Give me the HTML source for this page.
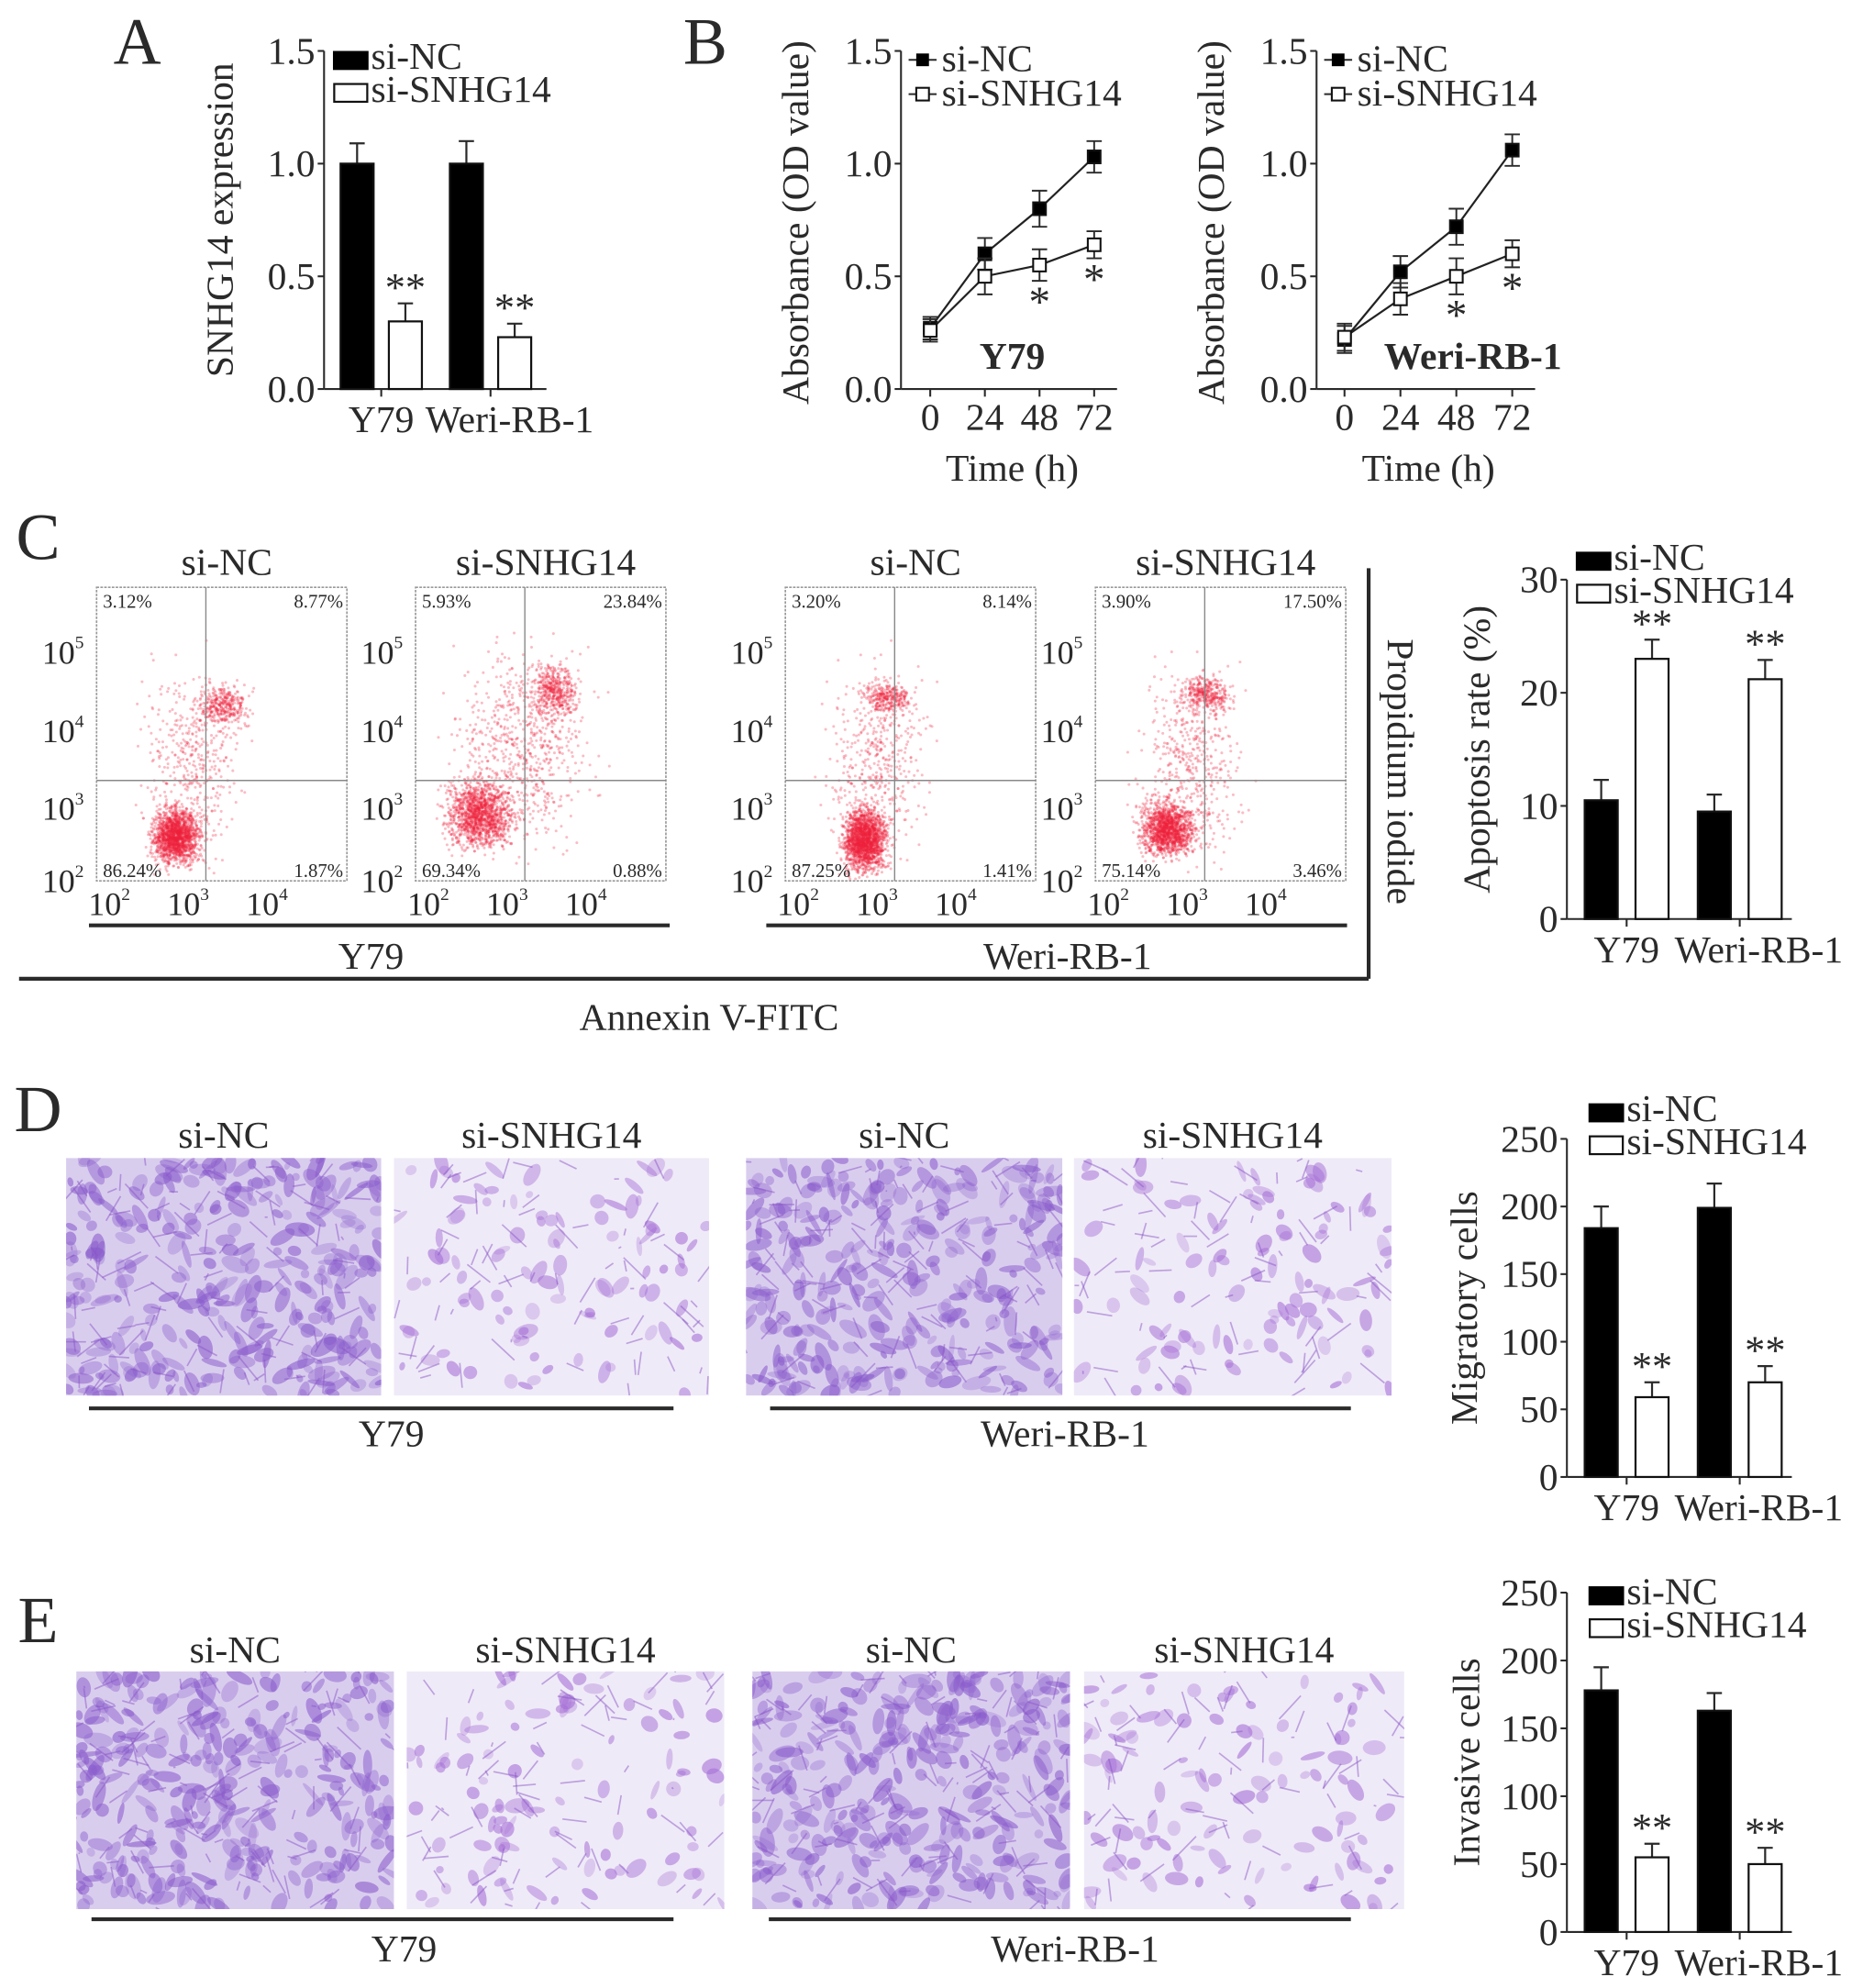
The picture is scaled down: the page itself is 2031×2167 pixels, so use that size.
<!DOCTYPE html>
<html><head><meta charset="utf-8"><style>
html,body{margin:0;padding:0;background:#fff}
svg{display:block}
text{font-family:"Liberation Serif","DejaVu Serif","Times New Roman",serif;fill:#2a2a2a}
</style></head><body>
<svg id="fig" width="2031" height="2167" viewBox="0 0 1466 1564" font-family="Liberation Serif, DejaVu Serif, serif" xmlns="http://www.w3.org/2000/svg"></svg>
<script>
// ---------- data ----------
const groupsA=["Y79","Weri-RB-1"];
const ncA=[1.0,1.0], ncAErr=[0.09,0.1];
const snA=[0.3,0.23], snAErr=[0.08,0.06];
const timeB=[0,24,48,72];
const b1NC=[0.27,0.6,0.8,1.03], b1NCErr=[0.05,0.07,0.08,0.07];
const b1SN=[0.26,0.5,0.55,0.64], b1SNErr=[0.05,0.08,0.07,0.06];
const b2NC=[0.22,0.52,0.72,1.06], b2NCErr=[0.06,0.07,0.08,0.07];
const b2SN=[0.23,0.4,0.5,0.6], b2SNErr=[0.06,0.07,0.08,0.06];
const ncC=[10.5,9.5], ncCErr=[1.8,1.5], snC=[23,21.2], snCErr=[1.7,1.7];
const ncD=[184,199], ncDErr=[16,18], snD=[59,70], snDErr=[11,12];
const ncE=[178,163], ncEErr=[17,13], snE=[55,50], snEErr=[10,12];
const flowQuad=[["3.12%","8.77%","86.24%","1.87%"],["5.93%","23.84%","69.34%","0.88%"],["3.20%","8.14%","87.25%","1.41%"],["3.90%","17.50%","75.14%","3.46%"]];

const NS="http://www.w3.org/2000/svg", svg=document.getElementById('fig');
const FF='Liberation Serif, DejaVu Serif, serif';
function el(tag,attrs,parent,txt){const e=document.createElementNS(NS,tag);for(const k in attrs)e.setAttribute(k,attrs[k]);if(txt!==undefined)e.textContent=txt;(parent||svg).appendChild(e);return e;}
function T(x,y,s,size,anchor,name,extra){const e=el('text',Object.assign({x:x,y:y,'font-size':size,'text-anchor':anchor||'middle','font-family':FF},extra||{}),null,s);

return e;}
function L(x1,y1,x2,y2,w,name){const e=el('line',{x1,y1,x2,y2,stroke:'#2a2a2a','stroke-width':w||1.5});

return e;}
let seed=7;function rnd(){seed=(seed*1103515245+12345)%2147483648;return seed/2147483648;}
function gauss(){return (rnd()+rnd()+rnd()+rnd()-2)*1.73;}

// panel letters
[["A",108,50],["B",555,50],["C",30,440],["D",30,890],["E",30,1292]].forEach(p=>{T(p[1],p[2],p[0],52,'middle','panel-label-'+p[0].toLowerCase());});

// ---------- bar chart helper ----------
function barChart(o){
  const y=v=>o.y0-(v/o.max)*(o.y0-o.yTop);
  L(o.ax,o.yTop,o.ax,o.y0,1.5,'y-axis');
  L(o.ax,o.y0,o.xEnd,o.y0,1.5,'x-axis');
  o.ticks.forEach((t,i)=>{L(o.ax-5,y(t),o.ax,y(t),1.5,'y-tick');T(o.ax-7,y(t)+10,o.tickLabels[i],30,'end','y-tick-label');});
  o.groups.forEach((g,i)=>{
    const c=o.gx[i];
    [[o.nc,o.ncErr,'#000',-1],[o.sn,o.snErr,'#fff',1]].forEach((s,j)=>{
      const x0=j===0?c-o.gap/2-o.bw:c+o.gap/2, v=s[0][i], e=s[1][i];
      L(x0+o.bw/2,y(v),x0+o.bw/2,y(v+e),1.6,'error-bar');
      L(x0+o.bw/2-6,y(v+e),x0+o.bw/2+6,y(v+e),1.6,'error-cap');
      const r=el('rect',{x:x0,y:y(v),width:o.bw,height:o.y0-y(v),fill:s[2],stroke:'#111','stroke-width':1.6});
      
      
      if(j===1)T(x0+o.bw/2,y(v+e)-2,'**',32,'middle','significance-stars');
    });
    L(c,o.y0,c,o.y0+6,1.5,'x-tick');
    T(c+(i===0?0:15),o.y0+34,g,30,'middle','x-tick-label');
  });
  const lt=o.legend;
  let r1=el('rect',{x:lt[0],y:lt[1]-14,width:28,height:15,fill:'#000'});
  T(lt[0]+30,lt[1],'si-NC',30,'start','legend-entry-si-nc');
  let r2=el('rect',{x:lt[0]+1,y:lt[1]+12,width:26,height:14,fill:'#fff',stroke:'#111','stroke-width':1.6});
  T(lt[0]+30,lt[1]+26,'si-SNHG14',30,'start','legend-entry-si-snhg14');
  T(0,0,o.ylabel,30,'middle','y-axis-title',{transform:`translate(${o.ylx},${(o.yTop+o.y0)/2}) rotate(-90)`});
}
barChart({ax:255,yTop:40,y0:306,xEnd:430,max:1.5,ticks:[0,0.5,1,1.5],tickLabels:["0.0","0.5","1.0","1.5"],groups:groupsA,gx:[300,386],bw:26,gap:12,nc:ncA,ncErr:ncAErr,sn:snA,snErr:snAErr,legend:[262,54],ylabel:"SNHG14  expression",ylx:183});
barChart({ax:1233,yTop:456,y0:723,xEnd:1410,max:30,ticks:[0,10,20,30],tickLabels:["0","10","20","30"],groups:groupsA,gx:[1280,1369],bw:26,gap:14,nc:ncC,ncErr:ncCErr,sn:snC,snErr:snCErr,legend:[1240,448],ylabel:"Apoptosis rate  (%)",ylx:1172});
barChart({ax:1233,yTop:896,y0:1162,xEnd:1410,max:250,ticks:[0,50,100,150,200,250],tickLabels:["0","50","100","150","200","250"],groups:groupsA,gx:[1280,1369],bw:26,gap:14,nc:ncD,ncErr:ncDErr,sn:snD,snErr:snDErr,legend:[1250,882],ylabel:"Migratory cells",ylx:1162});
barChart({ax:1233,yTop:1253,y0:1520,xEnd:1410,max:250,ticks:[0,50,100,150,200,250],tickLabels:["0","50","100","150","200","250"],groups:groupsA,gx:[1280,1369],bw:26,gap:14,nc:ncE,ncErr:ncEErr,sn:snE,snErr:snEErr,legend:[1250,1262],ylabel:"Invasive cells",ylx:1164});

// ---------- line charts ----------
function lineChart(o){
  const y=v=>306-(v/1.5)*266, x=t=>o.x0+(t/72)*(o.x3-o.x0);
  L(o.ax,40,o.ax,306,1.5,'y-axis');L(o.ax,306,o.x3+18,306,1.5,'x-axis');
  [0,0.5,1,1.5].forEach(t=>{L(o.ax-5,y(t),o.ax,y(t),1.5,'y-tick');T(o.ax-7,y(t)+10,t.toFixed(1),30,'end','y-tick-label');});
  timeB.forEach(t=>{L(x(t),306,x(t),312,1.5,'x-tick');T(x(t),338,String(t),30,'middle','x-tick-label');});
  [[o.nc,o.ncE,'#000','si-nc'],[o.sn,o.snE,'#fff','si-snhg14']].forEach(s=>{
    const pts=timeB.map((t,i)=>x(t)+','+y(s[0][i])).join(' ');
    const pl=el('polyline',{points:pts,fill:'none',stroke:'#222','stroke-width':1.6});
    
    timeB.forEach((t,i)=>{const v=s[0][i],e=s[1][i];
      L(x(t),y(v-e),x(t),y(v+e),1.4,'error-bar');L(x(t)-6,y(v+e),x(t)+6,y(v+e),1.4,'error-cap');L(x(t)-6,y(v-e),x(t)+6,y(v-e),1.4,'error-cap');
      const m=el('rect',{x:x(t)-5,y:y(v)-5,width:10,height:10,fill:s[2],stroke:'#111','stroke-width':1.5});
      });
  });
  [2,3].forEach(i=>T(x(timeB[i]),y(o.sn[i]-o.snE[i])+28,'*',34,'middle','significance-star'));
  T((o.x0+o.x3)/2+o.tdx,290,o.title,30,'middle','chart-title',{'font-weight':'bold'});
  T((o.x0+o.x3)/2,378,'Time (h)',30,'middle','x-axis-title');
  T(0,0,'Absorbance  (OD value)',30,'middle','y-axis-title',{transform:`translate(${o.ax-73},175) rotate(-90)`});
  const lx=o.ax+6;
  L(lx,47,lx+22,47,1.5,'legend-line');el('rect',{x:lx+6,y:42,width:10,height:10,fill:'#000'});T(lx+26,56,'si-NC',30,'start','legend-entry-si-nc');
  L(lx,74,lx+22,74,1.5,'legend-line');el('rect',{x:lx+6,y:69,width:10,height:10,fill:'#fff',stroke:'#111','stroke-width':1.5});T(lx+26,83,'si-SNHG14',30,'start','legend-entry-si-snhg14');
}
lineChart({ax:709,x0:732,x3:861,nc:b1NC,ncE:b1NCErr,sn:b1SN,snE:b1SNErr,title:'Y79',tdx:0});
lineChart({ax:1036,x0:1058,x3:1190,nc:b2NC,ncE:b2NCErr,sn:b2SN,snE:b2SNErr,title:'Weri-RB-1',tdx:35});

// ---------- flow plots ----------
const flowX=[76,327,618,862];
const clusters=[[[2.95,2.6,0.14,0.17,1600],[3.55,4.35,0.15,0.13,350],[3.15,3.6,0.3,0.6,450]],
 [[2.75,2.9,0.2,0.22,1400],[3.7,4.55,0.13,0.17,450],[3.3,3.8,0.4,0.6,700]],
 [[2.95,2.55,0.13,0.2,1800],[3.25,4.45,0.14,0.1,300],[3.1,3.6,0.3,0.6,450]],
 [[2.85,2.7,0.16,0.17,1400],[3.35,4.5,0.14,0.12,350],[3.15,3.6,0.3,0.6,500]]];
const flowTitles=["si-NC","si-SNHG14","si-NC","si-SNHG14"];
flowX.forEach((fx,k)=>{
  const w=197,top=462,bot=693;
  const lx=v=>fx+4+(v-2)*62, ly=v=>693-(v-2)*58.7;
  const g=el('g',{});
  el('rect',{x:fx,y:top,width:w,height:bot-top,fill:'#fff',stroke:'#999','stroke-width':1.2,'stroke-dasharray':'2,1'},g);
  clusters[k].forEach(c=>{for(let i=0;i<c[4];i++){const px=lx(c[0]+gauss()*c[2]),py=ly(c[1]+gauss()*c[3]);
    if(px>fx+1&&px<fx+w-1&&py>top+1&&py<bot-1)el('circle',{cx:px.toFixed(1),cy:py.toFixed(1),r:1.1,fill:'#f0203a','fill-opacity':0.3},g);}});
  const gx=fx+86;
  el('line',{x1:gx,y1:top,x2:gx,y2:bot,stroke:'#888','stroke-width':1},g);
  el('line',{x1:fx,y1:614,x2:fx+w,y2:614,stroke:'#888','stroke-width':1},g);
  const q=flowQuad[k];
  T(fx+5,478,q[0],15,'start','quadrant-ul');T(fx+w-3,478,q[1],15,'end','quadrant-ur');
  T(fx+5,690,q[2],15,'start','quadrant-ll');T(fx+w-3,690,q[3],15,'end','quadrant-lr');
  T(fx+w/2+4,452,flowTitles[k],30,'middle','flow-title');
  [[5,522],[4,584],[3,645],[2,702]].forEach(t=>{const e=T(fx-10,t[1],'10',26,'end','y-tick-label');el('tspan',{'font-size':14,dy:-12},e,String(t[0]));});
  [2,3,4].forEach(d=>{const e=T(lx(d)+6,720,'10',26,'middle','x-tick-label');el('tspan',{'font-size':14,dy:-12},e,String(d));});
});
L(70,728,527,728,3,'group-line-y79');L(603,728,1060,728,3,'group-line-weri');
T(292,762,'Y79',30,'middle','group-label-y79');T(840,762,'Weri-RB-1',30,'middle','group-label-weri');
L(15,770,1077,770,3,'axis-bracket');L(1077,447,1077,770,3,'axis-bracket-vertical');
T(558,810,'Annexin V-FITC',30,'middle','x-axis-title');
T(0,0,'Propidium iodide',30,'middle','y-axis-title',{transform:'translate(1092,607) rotate(90)'});

// ---------- micrographs ----------
const defs=el('defs',{});
let clipN=0;
function micro(x,y,w,h,dense,name){
  const id='clip'+(clipN++);
  const cp=el('clipPath',{id:id},defs);el('rect',{x,y,width:w,height:h},cp);
  const g=el('g',{'clip-path':`url(#${id})`});
  el('rect',{x,y,width:w,height:h,fill:dense?'#d9cdee':'#efeaf7'},g);
  const n=dense?300:100;
  for(let i=0;i<n;i++){const cx=x+rnd()*w,cy=y+rnd()*h,rx=3+rnd()*(dense?9:7),ry=2+rnd()*4;
    el('ellipse',{cx:cx.toFixed(1),cy:cy.toFixed(1),rx:rx.toFixed(1),ry:ry.toFixed(1),transform:`rotate(${(rnd()*180).toFixed(0)} ${cx.toFixed(1)} ${cy.toFixed(1)})`,fill:dense?'#8a5ccc':'#a56ed6','fill-opacity':(0.25+rnd()*0.35).toFixed(2)},g);}
  for(let i=0;i<(dense?120:70);i++){const x1=x+rnd()*w,y1=y+rnd()*h;const x2=x1+(rnd()-0.5)*40,y2=y1+(rnd()-0.5)*40;
    el('line',{x1:x1.toFixed(1),y1:y1.toFixed(1),x2:x2.toFixed(1),y2:y2.toFixed(1),stroke:'#8a55c8','stroke-width':1.2,'stroke-opacity':0.5},g);}
}
const dImg=[[52,300],[310,558],[587,836],[845,1095]], eImg=[[60,310],[320,570],[592,842],[853,1105]];
dImg.forEach((p,i)=>{micro(p[0],911,p[1]-p[0],187,i%2===0,'migration-image-'+(i+1));T((p[0]+p[1])/2,903,flowTitles[i],30,'middle','image-title');});
eImg.forEach((p,i)=>{micro(p[0],1315,p[1]-p[0],187,i%2===0,'invasion-image-'+(i+1));T((p[0]+p[1])/2,1308,flowTitles[i],30,'middle','image-title');});
L(70,1108,530,1108,3,'group-line-y79');L(606,1108,1063,1108,3,'group-line-weri');
T(308,1138,'Y79',30,'middle','group-label-y79');T(838,1138,'Weri-RB-1',30,'middle','group-label-weri');
L(72,1510,530,1510,3,'group-line-y79');L(605,1510,1063,1510,3,'group-line-weri');
T(318,1543,'Y79',30,'middle','group-label-y79');T(846,1543,'Weri-RB-1',30,'middle','group-label-weri');
</script>
</body></html>
